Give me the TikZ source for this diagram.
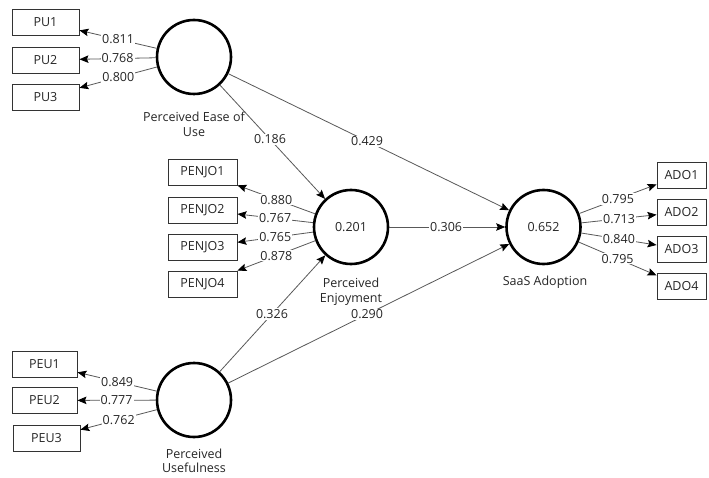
\documentclass[tikz,border=0pt]{standalone}
\usepackage{fontspec}
\setmainfont{Open Sans}
\usetikzlibrary{arrows.meta}
\newcommand{\lblfont}{\fontsize{12.5}{15}\selectfont}
\begin{document}
\begin{tikzpicture}[x=1pt,y=-1pt,
  lv/.style={circle,draw=black,line width=2.6pt,minimum size=74pt,inner sep=0pt,font=\lblfont,text=black!85},
  ind/.style={rectangle,draw=black!80,line width=0.9pt,minimum height=26pt,inner sep=0pt,font=\lblfont,text=black!85},
  conn/.style={draw=black!65,line width=0.8pt,-{Stealth[length=9pt,width=7.5pt,inset=1.5pt,color=black]}},
  coef/.style={fill=white,inner sep=1pt,font=\lblfont,text=black!85},
  captext/.style={align=center,font=\lblfont,text=black!85}]
\useasboundingbox[fill=white] (0,0) rectangle (709,478);

% latent variables
\node[lv] (peou) at (194,57) {};
\node[lv] (penj) at (351,227) {0.201};
\node[lv] (saas) at (543.5,227) {0.652};
\node[lv] (pu) at (194,400) {};

% captions
\node[captext] (cpeou) at (194,124) {Perceived Ease of\\Use};
\node[captext] (cpenj) at (351,292) {Perceived\\Enjoyment};
\node[captext] (csaas) at (545,282) {SaaS Adoption};
\node[captext,font=\fontsize{12.5}{14}\selectfont] (cpu) at (194,461) {Perceived\\Usefulness};

% indicators
\node[ind,minimum width=67pt] (pu1) at (45.5,22.5) {PU1};
\node[ind,minimum width=67pt] (pu2) at (45.5,60) {PU2};
\node[ind,minimum width=67pt] (pu3) at (45.5,97) {PU3};

\node[ind,minimum width=69pt] (pj1) at (202.5,172.5) {PENJO1};
\node[ind,minimum width=69pt] (pj2) at (202.5,210) {PENJO2};
\node[ind,minimum width=69pt] (pj3) at (202.5,247) {PENJO3};
\node[ind,minimum width=69pt] (pj4) at (202.5,284) {PENJO4};

\node[ind,minimum width=49pt] (ad1) at (681.5,175) {ADO1};
\node[ind,minimum width=49pt] (ad2) at (681.5,212) {ADO2};
\node[ind,minimum width=49pt] (ad3) at (681.5,249) {ADO3};
\node[ind,minimum width=49pt] (ad4) at (681.5,286) {ADO4};

\node[ind,minimum width=65pt] (pe1) at (44.5,364.5) {PEU1};
\node[ind,minimum width=65pt] (pe2) at (44.5,400.5) {PEU2};
\node[ind,minimum width=67pt] (pe3) at (46.5,438.5) {PEU3};

% loadings
\draw[conn] (peou) -- node[coef] {0.811} (pu1);
\draw[conn] (peou) -- node[coef] {0.768} (pu2);
\draw[conn] (peou) -- node[coef] {0.800} (pu3);

\draw[conn] (penj) -- node[coef] {0.880} (pj1);
\draw[conn] (penj) -- node[coef] {0.767} (pj2);
\draw[conn] (penj) -- node[coef] {0.765} (pj3);
\draw[conn] (penj) -- node[coef] {0.878} (pj4);

\draw[conn] (saas) -- node[coef] {0.795} (ad1);
\draw[conn] (saas) -- node[coef] {0.713} (ad2);
\draw[conn] (saas) -- node[coef] {0.840} (ad3);
\draw[conn] (saas) -- node[coef] {0.795} (ad4);

\draw[conn] (pu) -- node[coef] {0.849} (pe1);
\draw[conn] (pu) -- node[coef] {0.777} (pe2);
\draw[conn] (pu) -- node[coef] {0.762} (pe3);

% structural paths
\draw[conn] (peou) -- node[coef,pos=0.476] {0.186} (penj);
\draw[conn] (peou) -- node[coef,pos=0.494] {0.429} (saas);
\draw[conn] (penj) -- node[coef,pos=0.49] {0.306} (saas);
\draw[conn] (pu) -- node[coef,pos=0.495] {0.326} (penj);
\draw[conn] (pu) -- node[coef,pos=0.494] {0.290} (saas);
\end{tikzpicture}
\end{document}
